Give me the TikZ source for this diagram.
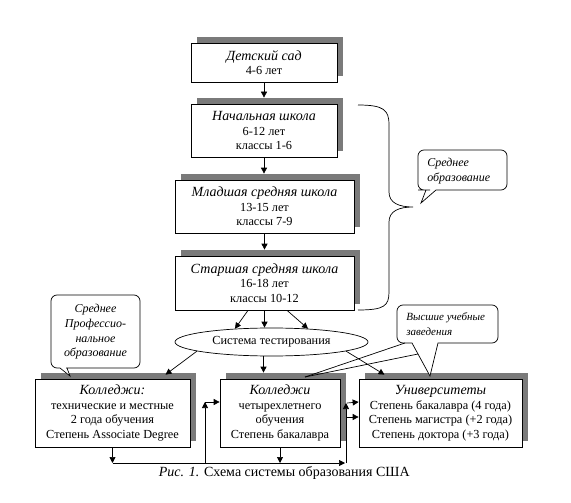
\documentclass[tikz,border=0pt]{standalone}
\usepackage{fontspec}
\setmainfont{Liberation Serif}
\usetikzlibrary{arrows.meta,shapes.geometric,shadows}
\newcommand{\btitle}[1]{{\fontsize{14}{14.5}\selectfont\itshape #1}}
\begin{document}
\begin{tikzpicture}[x=1pt,y=-1pt,line width=0.7pt,
  arr/.style={-{Triangle[length=6pt,width=6pt]}},
  sbox/.style={draw, fill=white, align=center, inner sep=0pt, line width=0.7pt,
    font=\fontsize{12.3}{14.5}\selectfont,
    general shadow={fill=black!52, draw=none, shadow xshift=6pt, shadow yshift=6pt}},
  ctext/.style={inner sep=0pt, font=\fontsize{12}{15}\selectfont\itshape},
  callout/.style={draw, fill=white, line width=0.7pt}
]
\useasboundingbox (0,0) rectangle (571,503);

% main column
\node[sbox, minimum width=146pt, minimum height=39pt] (kg) at (264,62.5)
  {\btitle{Детский сад}\\4-6 лет};
\node[sbox, minimum width=146pt, minimum height=53pt] (nach) at (264,130.5)
  {\btitle{Начальная школа}\\6-12 лет\\классы 1-6};
\node[sbox, minimum width=179pt, minimum height=53pt] (mlad) at (264.5,206.5)
  {\btitle{Младшая средняя школа}\\13-15 лет\\классы 7-9};
\node[sbox, minimum width=179pt, minimum height=54pt] (star) at (264.5,283)
  {\btitle{Старшая средняя школа}\\16-18 лет\\классы 10-12};

\draw[arr] (kg.south) -- ([yshift=6pt]kg.south |- nach.north);
\draw[arr] (nach.south) -- ([yshift=6pt]nach.south |- mlad.north);
\draw[arr] (mlad.south) -- ([yshift=6pt]mlad.south |- star.north);

% brace
\draw (358,105) .. controls (384,105) and (389,110) .. (389,125) -- (389,192)
  .. controls (389,203) and (399,207) .. (413,207)
  .. controls (399,207) and (389,211) .. (389,222) -- (389,292)
  .. controls (389,306) and (384,310) .. (358,310);

% testing ellipse
\node[draw, ellipse, inner sep=0pt, minimum width=193pt, minimum height=28pt,
  font=\fontsize{12.3}{14}\selectfont] (test) at (271.5,342) {Система тестирования};

\draw[arr] ([xshift=-16.5pt]star.south) -- (test.160);
\draw[arr] (star.south) -- (star.south |- test.north);
\draw[arr] ([xshift=22.5pt]star.south) -- (test.20);

% bottom row
\node[sbox, minimum width=155pt, minimum height=68pt] (lcol) at (112.5,413)
  {\btitle{Колледжи:}\\технические и местные\\2 года обучения\\Степень Associate Degree};
\node[sbox, minimum width=120pt, minimum height=68pt] (mcol) at (280,413)
  {\btitle{Колледжи}\\четырехлетнего\\обучения\\Степень бакалавра};
\node[sbox, minimum width=163pt, minimum height=68pt] (univ) at (440.5,413)
  {\btitle{Университеты}\\Степень бакалавра (4 года)\\Степень магистра (+2 года)\\Степень доктора (+3 года)};

\draw[arr] (test.187) -- ([xshift=53pt,yshift=4pt]lcol.north);
\draw[arr] ([xshift=-8pt]test.south) -- ([xshift=-8pt,yshift=6pt]test.south |- mcol.north);
\draw[arr] (test.-7) -- ([xshift=-56pt,yshift=4pt]univ.north);

% bus lines
\coordinate (busL) at (112.5,463);
\coordinate (busR) at (346,463);
\coordinate (upL) at (205,463);
\coordinate (jL) at (205,402);
\coordinate (jR) at (346,403);
\coordinate (jR2) at (346,417);
\draw[arr] (lcol.south) -- (busL);
\draw[arr] (mcol.south) -- (mcol.south |- busL);
\draw[arr] (busL) -- ([xshift=-1pt]busR);
\draw[arr] (upL) -- (jL);
\draw[arr] (jL) -- (jL -| mcol.west);
\draw[arr] (busR) -- (jR);
\draw[arr] ([xshift=1pt]jR) -- ([yshift=1pt]jR -| univ.west);
\draw[arr] (jR2) -- (jR2 -| univ.west);

% callout: Среднее образование
\draw[callout] (421,203) -- (436,190) -- (450,190) [rounded corners=6pt] -- (507,190)
  -- (507,150) -- (418,150) -- (418,190) -- (424,190) [sharp corners] -- (426,190) -- cycle;
\node[ctext, anchor=west, align=left] (sred) at (427,171.5) {Среднее\\образование};

% callout: Среднее профессиональное образование
\draw[callout] (70,376) -- (60,368) -- (58,368) [rounded corners=6pt] -- (51,368)
  -- (51,295) -- (140,295) -- (140,368) -- (72,368) [sharp corners] -- (67,368) -- cycle;
\node[ctext, align=center, font=\fontsize{12}{14.7}\selectfont\itshape] (spo) at (95.5,332)
  {Среднее\\Профессио-\\нальное\\образование};

% callout: Высшие учебные заведения
\draw[callout] (430,376) -- (412,343) -- (409,343) [rounded corners=6pt] -- (397,343)
  -- (397,305) -- (498,305) -- (498,343) -- (445,343) [sharp corners] -- (438,343) -- cycle;
\coordinate (vt) at (305,377);
\draw (405,343) -- (vt);
\draw (418,354) -- (vt);
\node[ctext, anchor=west, align=left, font=\fontsize{11}{15}\selectfont\itshape] (vuz) at (406,324.5)
  {Высшие учебные\\заведения};

% caption
\node[anchor=base east, inner sep=0pt, font=\fontsize{14}{16}\selectfont] (cap) at (410,476)
  {\textit{Рис. 1.} Схема системы образования США};
\end{tikzpicture}
\end{document}
